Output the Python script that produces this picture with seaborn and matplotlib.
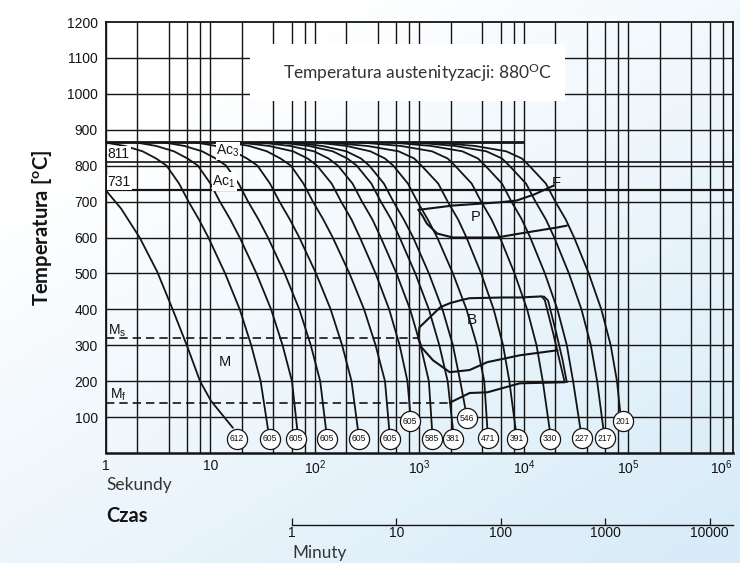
import numpy as np
import pandas as pd
import matplotlib
matplotlib.use("Agg")
import matplotlib.pyplot as plt
from matplotlib.patches import Rectangle
import seaborn as sns

# ---------------------------------------------------------------- data
# temperature levels (deg C) at which the cooling curves are sampled
levels = [865, 855, 840, 820, 800, 750, 700, 650, 600, 500, 400, 300, 200]

# log10(time [s]) of every cooling curve at the levels above
curve_logt = [
    [-0.02, 0.18, 0.35, 0.48, 0.58, 0.70, 0.79, 0.89, 0.98, 1.14, 1.28, 1.39, 1.48],
    [0.28, 0.48, 0.65, 0.78, 0.88, 1.00, 1.09, 1.19, 1.28, 1.44, 1.58, 1.69, 1.78],
    [0.55, 0.75, 0.92, 1.05, 1.15, 1.27, 1.36, 1.46, 1.55, 1.71, 1.85, 1.96, 2.05],
    [0.85, 1.05, 1.22, 1.35, 1.45, 1.57, 1.66, 1.76, 1.85, 2.01, 2.15, 2.26, 2.35],
    [1.17, 1.37, 1.54, 1.67, 1.77, 1.89, 1.98, 2.08, 2.17, 2.33, 2.47, 2.58, 2.67],
    [1.26, 1.56, 1.79, 1.93, 2.02, 2.16, 2.25, 2.35, 2.43, 2.58, 2.71, 2.81, 2.885],
    [1.46, 1.76, 1.99, 2.13, 2.22, 2.36, 2.45, 2.55, 2.63, 2.78, 2.91, 3.01, 3.09],
    [1.64, 1.94, 2.17, 2.31, 2.40, 2.54, 2.63, 2.73, 2.81, 2.96, 3.09, 3.19, 3.27],
    [1.77, 2.07, 2.30, 2.44, 2.52, 2.66, 2.75, 2.85, 2.94, 3.09, 3.22, 3.32, 3.39],
    [2.00, 2.30, 2.53, 2.67, 2.75, 2.89, 2.98, 3.08, 3.17, 3.32, 3.45, 3.55, 3.62],
    [2.10, 2.50, 2.80, 2.95, 3.02, 3.18, 3.27, 3.37, 3.45, 3.59, 3.71, 3.80, 3.86],
    [2.42, 2.82, 3.12, 3.27, 3.34, 3.50, 3.59, 3.69, 3.77, 3.91, 4.03, 4.12, 4.18],
    [2.71, 3.11, 3.41, 3.56, 3.63, 3.79, 3.88, 3.98, 4.06, 4.20, 4.32, 4.41, 4.47],
    [2.94, 3.34, 3.64, 3.79, 3.86, 4.02, 4.11, 4.21, 4.29, 4.43, 4.55, 4.64, 4.70],
    [3.13, 3.53, 3.83, 3.98, 4.05, 4.21, 4.30, 4.40, 4.48, 4.62, 4.74, 4.83, 4.89],
]
end_logt = [1.55, 1.83, 2.105, 2.41, 2.71, 2.91, 3.12, 3.32, 3.44, 3.65,
            3.92, 4.245, 4.54, 4.76, 4.92]
end_temp = [67, 67, 67, 67, 67, 117, 67, 67, 122, 67, 67, 67, 67, 67, 117]

# fastest (water) quench, enters the chart below Ac1
quench_temp = [731, 680, 600, 505, 400, 295, 200, 145, 70]
quench_logt = [0.0, 0.146, 0.322, 0.49, 0.638, 0.78, 0.90, 1.005, 1.215]

# Vickers hardness at the end of each curve (fastest first) and label spots
hardness = [612, 605, 605, 605, 605, 605, 605, 585, 381, 546, 471, 391, 330, 227, 217, 201]
hardness_logt = [1.254, 1.569, 1.818, 2.115, 2.421, 2.718, 2.909, 3.120, 3.321,
                 3.455, 3.656, 3.933, 4.249, 4.555, 4.775, 4.947]
hardness_temp = [39, 39, 39, 39, 39, 39, 89, 39, 39, 97, 41, 39, 39, 41, 41, 89]

# transformation lines
ac3, ac1, aust_line = 811, 731, 865
ms_temp, mf_temp = 320, 140
ps_logt = [2.99, 3.32, 3.77, 3.93, 4.10, 4.28]
ps_temp = [677, 689, 698, 703, 720, 744]
pf_logt = [2.99, 3.03, 3.07, 3.17, 3.32, 3.74, 3.96, 4.32, 4.41]
pf_temp = [677, 660, 639, 611, 600, 600, 611, 628, 633]
bs_logt = [2.99, 3.00, 3.10, 3.20, 3.29, 3.39, 3.48, 3.80, 3.96, 4.17]
bs_temp = [319, 350, 378, 406, 417, 425, 431, 433, 433, 436]
be_logt = [4.17, 4.20, 4.28, 4.34, 4.39]
be2_logt = [4.19, 4.23, 4.31, 4.37, 4.41]
be_temp = [436, 425, 333, 258, 197]
bf_logt = [2.99, 3.02, 3.13, 3.29, 3.48, 3.65, 3.96, 4.32]
bf_temp = [319, 294, 258, 225, 231, 253, 272, 286]
mfl_logt = [3.29, 3.48, 3.65, 3.96, 4.39]
mfl_temp = [140, 167, 169, 194, 197]

y_ticks = list(range(100, 1300, 100))
x_ticks = [1, 10, 100, 1e3, 1e4, 1e5, 1e6]
x_labels = ["1", "10", r"$10^2$", r"$10^3$", r"$10^4$", r"$10^5$", r"$10^6$"]
min_ticks = [1, 10, 100, 1000, 10000]
min_labels = ["1", "10", "100", "1000", "10000"]

# ---------------------------------------------------------------- style
sns.set_theme(style="white")
plt.rcParams["font.family"] = ["Liberation Sans", "DejaVu Sans"]
plt.rcParams["mathtext.fontset"] = "custom"
plt.rcParams["mathtext.rm"] = "Liberation Sans"
plt.rcParams["mathtext.it"] = "Liberation Sans"
INK = "#141414"

rows = []
for i, (lt, et, eT) in enumerate(zip(curve_logt, end_logt, end_temp)):
    for t, T in zip(lt + [et], levels + [eT]):
        rows.append({"curve": i + 1, "time": 10 ** t, "temp": T})
for t, T in zip(quench_logt, quench_temp):
    rows.append({"curve": 0, "time": 10 ** t, "temp": T})
cool = pd.DataFrame(rows)

fig = plt.figure(figsize=(7.4, 5.63), dpi=100)

# soft pale-blue paper behind the diagram
bg = fig.add_axes([0, 0, 1, 1], zorder=0)
yy, xx = np.mgrid[0:1:200j, 0:1:260j]
w = np.clip(0.55 * yy + 0.45 * xx - 0.2, 0, 0.75)
c_light = np.array([1.0, 1.0, 1.0])
c_blue = np.array([0.80, 0.90, 0.965])
img = c_light[None, None, :] * (1 - w[..., None]) + c_blue[None, None, :] * w[..., None]
bg.imshow(img, extent=[0, 1, 0, 1], aspect="auto", origin="upper")
bg.set_axis_off()

ax = fig.add_axes([0.1432, 0.1954, 0.8473, 0.7655], zorder=1)
ax.patch.set_alpha(0)
ax.set_xscale("log")
ax.set_xlim(1, 1e6)
ax.set_ylim(0, 1200)

# grid paper
for d in range(6):
    for m in (1, 2, 4, 6, 8):
        ax.axvline(m * 10 ** d, color=INK, lw=1.0, zorder=1)
for T in range(100, 1200, 100):
    ax.axhline(T, color=INK, lw=1.0, zorder=1)

# critical temperatures
ax.axhline(ac3, color=INK, lw=1.2, zorder=2)
ax.axhline(ac1, color=INK, lw=1.6, zorder=2)
ax.plot([1, 10 ** 3.99], [aust_line, aust_line], color=INK, lw=2.0, zorder=2)
ax.plot([1, 10 ** 2.99], [ms_temp, ms_temp], color=INK, lw=1.2, ls=(0, (5, 3)), zorder=2)
ax.plot([1, 10 ** 3.29], [mf_temp, mf_temp], color=INK, lw=1.2, ls=(0, (5, 3)), zorder=2)

# cooling curves
sns.lineplot(data=cool, x="time", y="temp", units="curve", estimator=None,
             sort=False, color=INK, lw=1.3, ax=ax, zorder=3, legend=False)

# transformation regions
for lt, Tt, lw in [(ps_logt, ps_temp, 1.5), (pf_logt, pf_temp, 1.5),
                   (bs_logt, bs_temp, 1.5), (be_logt, be_temp, 1.3),
                   (be2_logt, be_temp, 1.3), (bf_logt, bf_temp, 1.5),
                   (mfl_logt, mfl_temp, 1.5)]:
    ax.plot(10 ** np.array(lt), Tt, color=INK, lw=lw, zorder=3)

# hardness circles
ax.scatter(10 ** np.array(hardness_logt), hardness_temp, s=210, facecolor="white",
           edgecolor=INK, linewidth=0.9, zorder=5, clip_on=False)
for h, lt, T in zip(hardness, hardness_logt, hardness_temp):
    ax.text(10 ** lt, T, str(h), ha="center", va="center", fontsize=6.2,
            family=["Liberation Sans Narrow", "Liberation Sans"], color=INK, zorder=6)

# labels inside the diagram
lab = dict(color=INK, zorder=6, family=["Liberation Sans", "DejaVu Sans"])
box = dict(facecolor="white", edgecolor="none", pad=0.6)
ax.text(1.04, ac3 + 3, "811", fontsize=10, va="bottom", ha="left", bbox=box, **lab)
ax.text(1.04, ac1 + 3, "731", fontsize=10, va="bottom", ha="left", bbox=box, **lab)
ax.text(14.7, 842, r"Ac$_3$", fontsize=10, va="center", ha="center", bbox=box, **lab)
ax.text(13.5, 756, r"Ac$_1$", fontsize=10, va="center", ha="center", bbox=box, **lab)
ax.text(1.05, 339, r"M$_\mathrm{s}$", fontsize=10, va="center", ha="left", **lab)
ax.text(1.10, 161, r"M$_\mathrm{f}$", fontsize=10, va="center", ha="left", **lab)
ax.text(13.8, 253, "M", fontsize=10.5, va="center", ha="center", **lab)
ax.text(3180, 369, "B", fontsize=11, va="center", ha="center", **lab)
ax.text(3475, 656, "P", fontsize=10.5, va="center", ha="center", **lab)
ax.text(20200, 753, "F", fontsize=10.5, va="center", ha="center", **lab)

# austenitizing note
ax.add_patch(Rectangle((0.2297, 0.817), 0.5024, 0.132, transform=ax.transAxes,
                       facecolor="white", edgecolor="none", zorder=7))
ax.text(0.4976, 0.883, r"Temperatura austenityzacji: 880$^{\mathregular{O}}$C",
        transform=ax.transAxes, ha="center", va="center", fontsize=12.5,
        family=["Lato", "DejaVu Sans"], color="#333333", zorder=8)

# axes
for sp in ax.spines.values():
    sp.set_visible(True)
    sp.set_color(INK)
    sp.set_linewidth(1.3)
ax.spines["bottom"].set_linewidth(1.8)
ax.set_yticks(y_ticks)
ax.set_xticks(x_ticks)
ax.set_xticklabels(x_labels)
ax.xaxis.set_minor_locator(matplotlib.ticker.NullLocator())
ax.tick_params(axis="both", which="major", direction="out", length=4, width=1.0,
               colors=INK, labelsize=10, pad=2)
ax.tick_params(axis="x", length=0, pad=4)
# keep the last decade label inside the figure edge
ax.get_xticklabels()[-1].set_horizontalalignment("right")
ax.set_xlabel("")
ax.set_ylabel("")

# minutes scale
sec = ax.secondary_xaxis(-0.1667, functions=(lambda s: s / 60.0, lambda m: m * 60.0))
sec.set_xticks(min_ticks)
sec.set_xticklabels(min_labels)
sec.xaxis.set_minor_locator(matplotlib.ticker.NullLocator())
sec.spines["bottom"].set_bounds(1, 1e6 / 60.0)
sec.spines["bottom"].set_color(INK)
sec.spines["bottom"].set_linewidth(1.0)
sec.tick_params(axis="x", direction="in", length=5, width=0.9, colors=INK,
                labelsize=10, pad=1)

# outer titles
fig.text(0.057, 0.595, r"Temperatura [$^{\mathregular{o}}$C]", rotation=90,
         ha="center", va="center", fontsize=14.5, fontweight="bold",
         family=["Lato", "DejaVu Sans"], color=INK)
fig.text(0.1432, 0.1385, "Sekundy", ha="left", va="center", fontsize=12.5,
         family=["Lato", "DejaVu Sans"], color="#333333")
fig.text(0.1432, 0.0835, "Czas", ha="left", va="center", fontsize=14.5,
         fontweight="bold", family=["Lato", "DejaVu Sans"], color=INK)
fig.text(0.3946, 0.0178, "Minuty", ha="left", va="center", fontsize=12.3,
         family=["Lato", "DejaVu Sans"], color="#333333")

fig.savefig("out.png", dpi=100)
